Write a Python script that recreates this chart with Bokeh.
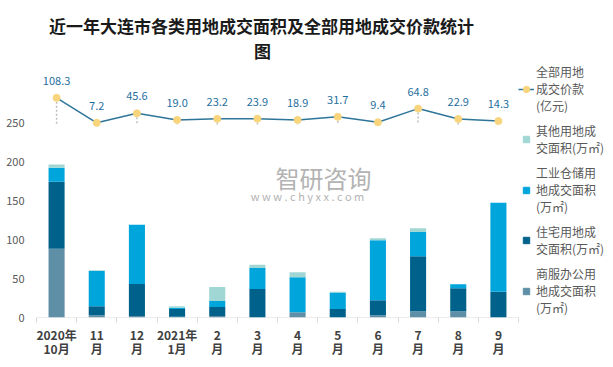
from bokeh.plotting import figure
from bokeh.models import Range1d, FixedTicker, Legend, LegendItem, Label, ColumnDataSource
from bokeh.core.properties import value
from bokeh.embed import file_html
from bokeh.resources import INLINE

FONT = "Noto Sans CJK SC"

categories = ["2020年\n10月", "11\n月", "12\n月", "2021年\n1月", "2\n月", "3\n月",
              "4\n月", "5\n月", "6\n月", "7\n月", "8\n月", "9\n月"]
shangfu = [88, 3, 2, 1, 2, 0, 6.6, 0, 3, 8, 8, 0]
zhuzhai = [86, 11.5, 41, 10, 11.5, 36.5, 0, 11, 19, 70.5, 29.5, 33]
gongye = [18, 45, 76, 1.5, 7.5, 27, 45, 21, 77, 31, 5, 114]
qita = [4, 1, 0, 2, 18, 4, 6.5, 1, 2.5, 5, 0, 0]
price = [108.3, 7.2, 45.6, 19.0, 23.2, 23.9, 18.9, 31.7, 9.4, 64.8, 22.9, 14.3]
y_ticks = [0, 50, 100, 150, 200, 250]

legend_labels = {
    "price": "全部用地\n成交价款\n(亿元)",
    "qita": "其他用地成\n交面积(万㎡)",
    "gongye": "工业仓储用\n地成交面积\n(万㎡)",
    "zhuzhai": "住宅用地成\n交面积(万㎡)",
    "shangfu": "商服办公用\n地成交面积\n(万㎡)",
}
colors = {"shangfu": "#5e8fa7", "zhuzhai": "#00628a", "gongye": "#00a5dc", "qita": "#a0d7d5"}

n = len(categories)
idx = list(range(n))
source = ColumnDataSource(dict(x=idx, shangfu=shangfu, zhuzhai=zhuzhai, gongye=gongye, qita=qita))

W, H = 605, 359
left, bottom_px = 36, 42
cat_px = 482 / n
frame_w = W - left
frame_h = H - bottom_px
px_per_unit = 0.78
x_end = -0.5 + frame_w / cat_px
y_top = frame_h / px_per_unit
sec_zero_from_top = 124.1
sec_px = 0.247
sec_top = sec_zero_from_top / sec_px
sec_bottom = (sec_zero_from_top - frame_h) / sec_px

p = figure(width=W, height=H, output_backend="svg", toolbar_location=None,
           x_range=Range1d(-0.5, x_end), y_range=Range1d(0, y_top),
           min_border_left=left, min_border_right=0, min_border_top=0,
           min_border_bottom=bottom_px,
           outline_line_color=None, background_fill_color="white", border_fill_color="white")
p.extra_y_ranges = {"price": Range1d(sec_bottom, sec_top)}
p.grid.visible = False

xa = p.xaxis[0]
xa.ticker = FixedTicker(ticks=idx, minor_ticks=[i - 0.5 for i in range(n + 1)])
xa.major_label_overrides = {i: c for i, c in zip(idx, categories)}
xa.major_tick_line_color = None
xa.major_tick_out = 5
xa.major_tick_in = 0
xa.minor_tick_in = 0
xa.minor_tick_out = 5
xa.minor_tick_line_color = "#d9d9d9"
xa.axis_line_color = None
xa.major_label_text_font = FONT
xa.major_label_text_font_size = "12px"
xa.major_label_text_font_style = "bold"
xa.major_label_text_color = "#404040"
xa.major_label_text_line_height = 0.85
xa.major_label_standoff = 3

p.segment(x0=[-0.5], y0=[0], x1=[n - 0.5], y1=[0], line_color="#d9d9d9", line_width=1)

ya = p.yaxis[0]
ya.ticker = FixedTicker(ticks=y_ticks)
ya.axis_line_color = None
ya.major_tick_line_color = None
ya.minor_tick_line_color = None
ya.major_tick_out = 0
ya.major_tick_in = 0
ya.major_label_text_font = FONT
ya.major_label_text_font_size = "11px"
ya.major_label_text_color = "#595959"
ya.major_label_standoff = 12

stack_keys = ["shangfu", "zhuzhai", "gongye", "qita"]
p.vbar_stack(stack_keys, x="x", width=0.4, source=source,
             fill_color=[colors[k] for k in stack_keys], line_color=None)

zeros = [0] * len(price)
p.segment(x0=idx, y0=price, x1=idx, y1=zeros, y_range_name="price",
          line_color="#bfbfbf", line_width=1.5, line_dash="2 2")
line_r = p.line(idx, price, y_range_name="price", line_color="#2e7599", line_width=1.5)
mark_r = p.scatter(idx, price, y_range_name="price", size=7,
                   fill_color="#f8d57c", line_color="#f8d57c")
p.text(x=idx, y=price, text=[f"{v:.1f}" for v in price], y_range_name="price",
       y_offset=-17, text_align="center", text_baseline="middle",
       text_font=value(FONT), text_font_size="11px", text_color="#1f6fa0")

proxies = {}
for k in ["qita", "gongye", "zhuzhai", "shangfu"]:
    proxies[k] = p.scatter(x=[float("nan")], y=[float("nan")], marker="square", size=7,
                           fill_color=colors[k], line_color=colors[k])

items = [LegendItem(label=value(legend_labels["price"]), renderers=[line_r, mark_r])]
for k in ["qita", "gongye", "zhuzhai", "shangfu"]:
    items.append(LegendItem(label=value(legend_labels[k]), renderers=[proxies[k]]))

legend = Legend(items=items, location=(482, 1), orientation="vertical",
                margin=0, padding=0, spacing=8, glyph_width=16, glyph_height=16,
                label_standoff=2, label_text_font=FONT, label_text_font_size="12px",
                label_text_line_height=1.1,
                label_text_color="#595959", border_line_color=None, background_fill_alpha=0)
p.add_layout(legend, "center")

p.add_layout(Label(x=225, y=frame_h - 25, x_units="screen", y_units="screen",
                   text="近一年大连市各类用地成交面积及全部用地成交价款统计",
                   text_align="center", text_baseline="middle", text_font=FONT,
                   text_font_size="17px", text_font_style="bold", text_color="#1a1a1a"))
p.add_layout(Label(x=226, y=frame_h - 50, x_units="screen", y_units="screen", text="图",
                   text_align="center", text_baseline="middle", text_font=FONT,
                   text_font_size="17px", text_font_style="bold", text_color="#1a1a1a"))

p.add_layout(Label(x=287, y=frame_h - 177, x_units="screen", y_units="screen", text="智研咨询",
                   text_align="center", text_baseline="middle", text_font=FONT,
                   text_font_size="24px", text_color="#b3b3b3"))
p.add_layout(Label(x=271, y=frame_h - 195, x_units="screen", y_units="screen",
                   text="w w w . c h y x x . c o m",
                   text_align="center", text_baseline="middle", text_font=FONT,
                   text_font_size="11px", text_color="#b3b3b3"))

open("out.html", "w").write(file_html(p, INLINE))
